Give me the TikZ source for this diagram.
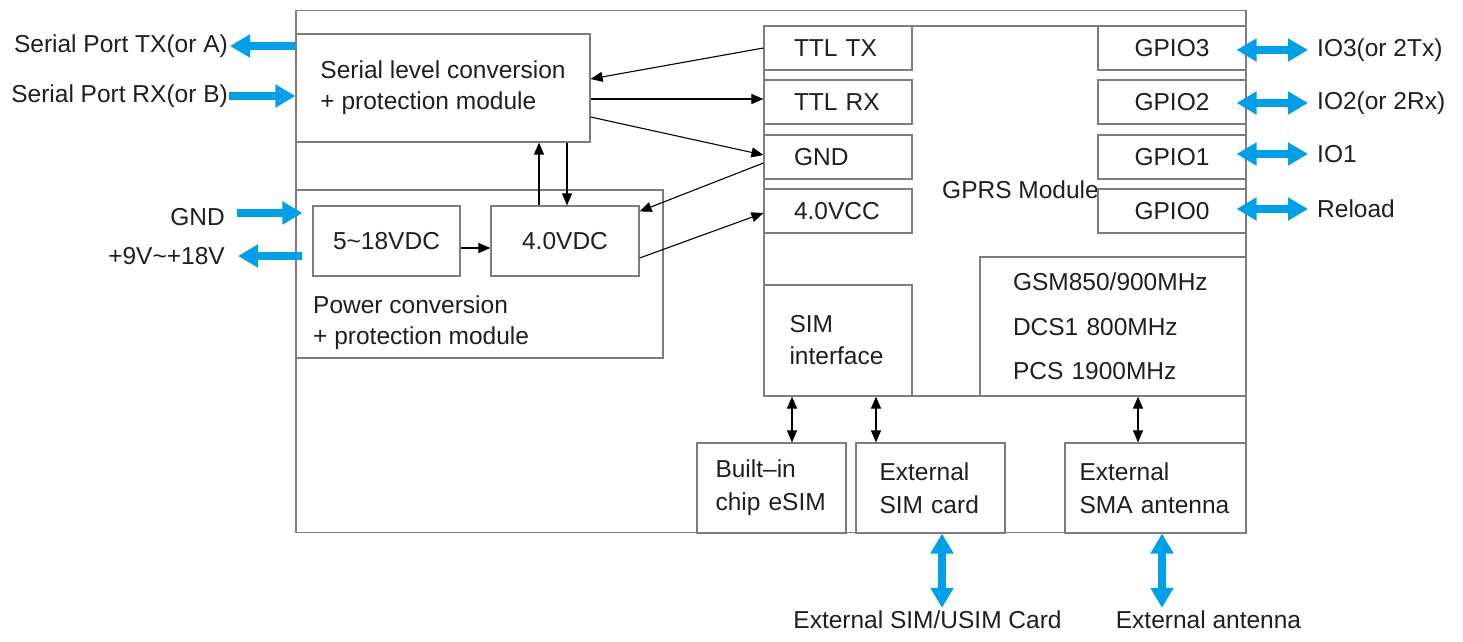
\documentclass[tikz,border=0pt]{standalone}
\usepackage{fontspec}
\setmainfont{Liberation Sans}
\usetikzlibrary{arrows.meta}
\definecolor{portblue}{RGB}{0,160,233}
\definecolor{linegray}{RGB}{125,125,125}

\begin{document}
\begin{tikzpicture}[x=1pt,y=-1pt,
  font=\fontsize{24.5}{31}\selectfont,
  box/.style={draw=linegray,line width=1.2pt,inner sep=0pt,text=black!88},
  ttl/.style={box,minimum width=148pt,minimum height=44pt,text width=88pt,align=left},
  gpio/.style={box,minimum width=148pt,minimum height=44pt},
  txt/.style={inner sep=0pt,text=black!88},
  wire/.style={line width=1.1pt,-{Triangle[length=12pt,width=10pt]}},
  dwire/.style={line width=1.1pt,{Triangle[length=12pt,width=10pt]}-{Triangle[length=12pt,width=10pt]}},
  port/.style={portblue,line width=7.5pt,-{Triangle[length=20pt,width=22pt]}},
  dport/.style={portblue,line width=7.5pt,{Triangle[length=20pt,width=22pt]}-{Triangle[length=20pt,width=22pt]}}]
\useasboundingbox (0,0) rectangle (1463,641);
% board outline
\node[box,minimum width=950pt,minimum height=522pt] (board) at (771,271.5) {};
% serial side
\node[box,minimum width=294pt,minimum height=108pt,align=left] (serial) at (443,88) {Serial level conversion\\+ protection module};
\node[txt,anchor=east] (txlbl) at (228,46) {Serial Port TX(or A)};
\node[txt,anchor=east] (rxlbl) at (228,96) {Serial Port RX(or B)};
% power side
\node[box,minimum width=367pt,minimum height=168pt] (power) at (479.5,274) {};
\node[txt,align=left,anchor=north west] (powlbl) at (313,296) {Power conversion\\+ protection module};
\node[box,minimum width=147pt,minimum height=70pt] (vin) at (386.5,241) {5\textasciitilde18VDC};
\node[box,minimum width=148pt,minimum height=70pt] (vfour) at (565,241) {4.0VDC};
\node[txt,anchor=east] (gndlbl) at (225,217) {GND};
\node[txt,anchor=east] (vlbl) at (225,256) {+9V\textasciitilde+18V};
% GPRS module
\node[box,minimum width=482pt,minimum height=370pt] (gprs) at (1005,211) {};
\node[txt,anchor=east] (gprslbl) at (1099,190) {GPRS Module};
\node[ttl] (ttltx) at (838,48) {TTL TX};
\node[ttl] (ttlrx) at (838,102) {TTL RX};
\node[ttl] (ttlgnd) at (838,157) {GND};
\node[ttl] (ttlvcc) at (838,211) {4.0VCC};
\node[gpio] (gpiothree) at (1172,48) {GPIO3};
\node[gpio] (gpiotwo) at (1172,102) {GPIO2};
\node[gpio] (gpioone) at (1172,157) {GPIO1};
\node[gpio] (gpiozero) at (1172,211) {GPIO0};
\node[txt,anchor=west] (iothree) at (1317,50) {IO3(or 2Tx)};
\node[txt,anchor=west] (iotwo) at (1317,103) {IO2(or 2Rx)};
\node[txt,anchor=west] (ioone) at (1317,154) {IO1};
\node[txt,anchor=west] (reload) at (1317,209) {Reload};
\node[box,minimum width=148pt,minimum height=111pt,text width=97pt,align=left,font=\fontsize{24.5}{32}\selectfont] (simif) at (838,340.5) {SIM\\interface};
\node[box,minimum width=266pt,minimum height=139pt,text width=200pt,align=left,font=\fontsize{24.5}{44.5}\selectfont] (band) at (1113,326.5) {GSM850/900MHz\\DCS1 800MHz\\PCS 1900MHz};
% sim and antenna
\node[box,minimum width=149pt,minimum height=90pt,text width=112pt,align=left,font=\fontsize{24.5}{33}\selectfont] (esim) at (771.5,488) {Built–in\\chip eSIM};
\node[box,minimum width=149pt,minimum height=90pt,text width=102pt,align=left,font=\fontsize{24.5}{33}\selectfont] (extsim) at (930.5,488) {External\\SIM card};
\node[box,minimum width=181pt,minimum height=90pt,text width=152pt,align=left,font=\fontsize{24.5}{33}\selectfont] (sma) at (1155.5,488) {External\\SMA antenna};
\node[txt] (usimlbl) at (927.5,620) {External SIM/USIM Card};
\node[txt] (antlbl) at (1208.5,620) {External antenna};
% signal wires
\draw[wire] (ttltx.west) -- ([yshift=9pt]serial.east);
\draw[wire] ([yshift=-11pt]serial.east) -- ([yshift=-11pt]serial.east -| ttlrx.west);
\draw[wire] ([yshift=-29pt]serial.east) -- ([yshift=2pt]ttlgnd.west);
\draw[wire] ([yshift=-6pt]ttlgnd.west) -- ([yshift=-6pt]vfour.north east);
\draw[wire] ([yshift=-17pt]vfour.east) -- ([yshift=-2pt]ttlvcc.west);
\draw[wire] ([xshift=-26pt]vfour.north) -- ([xshift=-26pt]vfour.north |- serial.south);
\draw[wire] ([xshift=2pt]vfour.north |- serial.south) -- ([xshift=2pt]vfour.north);
\draw[wire] ([yshift=-7pt]vin.east) -- ([yshift=-7pt]vfour.west);
\draw[dwire] ([xshift=-46pt]simif.south) -- ([xshift=-46pt]simif.south |- esim.north);
\draw[dwire] ([xshift=38pt]simif.south) -- ([xshift=38pt]simif.south |- extsim.north);
\draw[dwire] ([xshift=25pt]band.south) -- ([xshift=25pt]band.south |- sma.north);
% external ports
\draw[port] (serial.west |- txlbl) -- ([xshift=2pt]txlbl.east);
\draw[port] ([xshift=1pt]rxlbl.east) -- (serial.west |- rxlbl);
\draw[port] ([xshift=12pt,yshift=4pt]gndlbl.east) -- ([xshift=7pt,yshift=4pt]gndlbl.east -| power.west);
\draw[port] ([xshift=7pt]power.west |- vlbl) -- ([xshift=13pt]vlbl.east);
\draw[dport] ([xshift=-10pt]gpiothree.east |- iothree) -- ([xshift=-9pt]iothree.west);
\draw[dport] ([xshift=-10pt]gpiotwo.east |- iotwo) -- ([xshift=-9pt]iotwo.west);
\draw[dport] ([xshift=-10pt]gpioone.east |- ioone) -- ([xshift=-9pt]ioone.west);
\draw[dport] ([xshift=-10pt]gpiozero.east |- reload) -- ([xshift=-9pt]reload.west);
\draw[dport] ([xshift=11.5pt]extsim.south) -- ([xshift=11.5pt,yshift=3pt]extsim.south |- usimlbl.north);
\draw[dport] ([xshift=6.5pt]sma.south) -- ([xshift=6.5pt,yshift=3pt]sma.south |- antlbl.north);
\end{tikzpicture}
\end{document}
